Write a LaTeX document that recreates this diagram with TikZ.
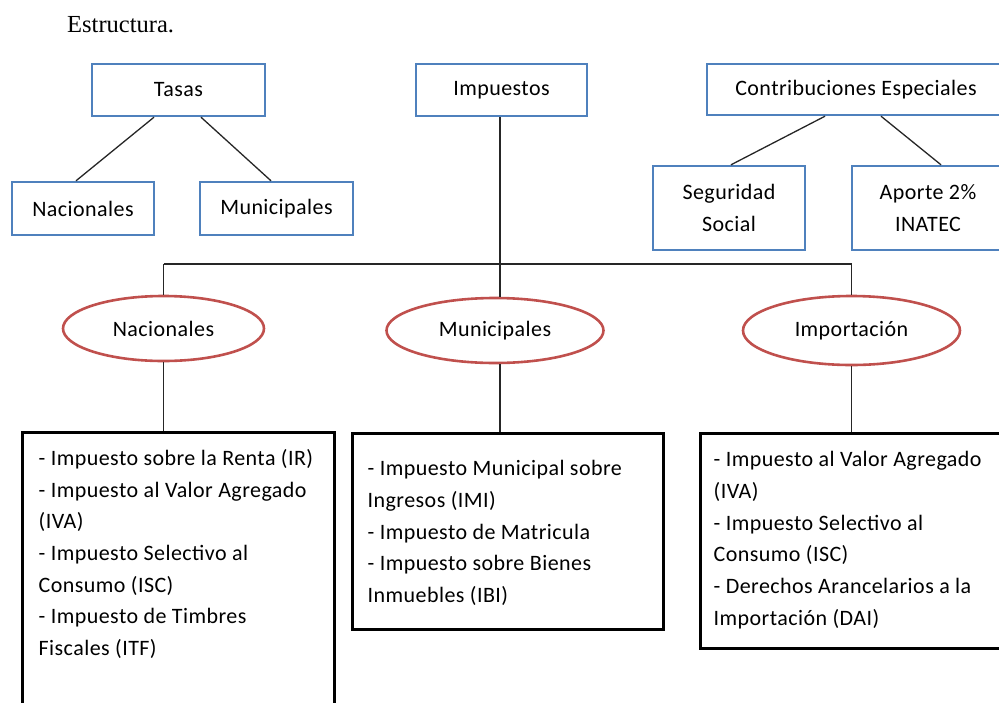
\documentclass[tikz,border=0pt]{standalone}
\usepackage{fontspec}
\setmainfont[LetterSpace=2]{Carlito}
\newfontfamily\timesf{Liberation Serif}
\usetikzlibrary{shapes.geometric,calc}
\definecolor{wblue}{HTML}{4F81BD}
\definecolor{wred}{HTML}{C0504D}
\begin{document}
\begin{tikzpicture}[x=1pt,y=-1pt,
  every node/.style={font=\fontsize{22}{31.7}\selectfont},
  bbox/.style={draw=wblue,line width=2.4pt,inner sep=0pt,align=center},
  kbox/.style={draw=black,line width=3pt,inner sep=0pt},
  oval/.style={ellipse,draw=wred,line width=2.6pt,inner sep=0pt},
  conn/.style={draw=black!85,line width=1.3pt},
  list/.style={anchor=north west,inner sep=0pt,align=left}]
\useasboundingbox (0,0) rectangle (999,702);
\clip (0,0) rectangle (999,702);

\node[anchor=base west,inner sep=0pt,font=\timesf\fontsize{24.5}{28}\selectfont] (title) at (67,32) {Estructura.};

% top boxes
\node[bbox,minimum width=173pt,minimum height=52pt] (tasas) at (178.5,90) {Tasas};
\node[bbox,minimum width=142pt,minimum height=53pt] (tnac) at (83,208.5) {Nacionales};
\node[bbox,minimum width=153pt,minimum height=53pt] (tmun) at (276.5,208.5) {Municipales};
\node[bbox,minimum width=171pt,minimum height=52pt] (imp) at (501.5,90) {Impuestos};
\node[bbox,minimum width=298pt,minimum height=51pt] (contr) at (856,89.5) {Contribuciones Especiales};
\node[bbox,minimum width=152pt,minimum height=84pt] (seg) at (729,208) {Seguridad\\Social};
\node[bbox,minimum width=152pt,minimum height=84pt] (apor) at (928,208) {Aporte 2\%\\INATEC};

\draw[conn] ([xshift=-24.5pt]tasas.south) -- ([xshift=-7pt]tnac.north);
\draw[conn] ([xshift=22.5pt]tasas.south) -- ([xshift=-5.5pt]tmun.north);
\draw[conn] ([xshift=-31pt]contr.south) -- ([xshift=2pt]seg.north);
\draw[conn] ([xshift=25pt]contr.south) -- ([xshift=13pt]apor.north);

% ellipses
\node[oval,minimum width=201pt,minimum height=65pt] (enac) at (163.5,328.5) {Nacionales};
\node[oval,minimum width=217pt,minimum height=65pt] (emun) at (495,330.5) {Municipales};
\node[oval,minimum width=217pt,minimum height=69pt] (eimp) at (851.5,330.5) {Importación};

% lower boxes
\node[kbox,minimum width=312pt,minimum height=298pt] (lbox) at (178,581) {};
\node[kbox,minimum width=311pt,minimum height=196pt] (mbox) at (507.5,531) {};
\node[kbox,minimum width=310pt,minimum height=215pt] (rbox) at (855,540.5) {};

\node[list] (ltext) at ([shift={(18,12.5)}]lbox.north west)
  {\strut- Impuesto sobre la Renta (IR)\\
   - Impuesto al Valor Agregado\\
   (IVA)\\
   - Impuesto Selectivo al\\
   Consumo (ISC)\\
   - Impuesto de Timbres\\
   Fiscales (ITF)};
\node[list] (mtext) at ([shift={(17,22)}]mbox.north west)
  {\strut- Impuesto Municipal sobre\\
   Ingresos (IMI)\\
   - Impuesto de Matricula\\
   - Impuesto sobre Bienes\\
   Inmuebles (IBI)};
\node[list] (rtext) at ([shift={(15,13)}]rbox.north west)
  {\strut- Impuesto al Valor Agregado\\
   (IVA)\\
   - Impuesto Selectivo al\\
   Consumo (ISC)\\
   - Derechos Arancelarios a la\\
   Importación (DAI)};

% tree connectors
\coordinate (bus) at (500,264);
\draw[conn] ([xshift=-1.5pt]imp.south) -- ([xshift=-1.5pt]imp.south |- bus);
\draw[conn] (enac.north |- bus) -- (eimp.north |- bus);
\draw[conn] (enac.north |- bus) -- (enac.north);
\draw[conn] (eimp.north |- bus) -- (eimp.north);
\draw[conn] (bus) -- (bus |- emun.north);
\draw[conn] (enac.south) -- (enac.south |- lbox.north);
\draw[conn] (bus |- emun.south) -- (bus |- mbox.north);
\draw[conn] (eimp.south) -- (eimp.south |- rbox.north);
\end{tikzpicture}
\end{document}
